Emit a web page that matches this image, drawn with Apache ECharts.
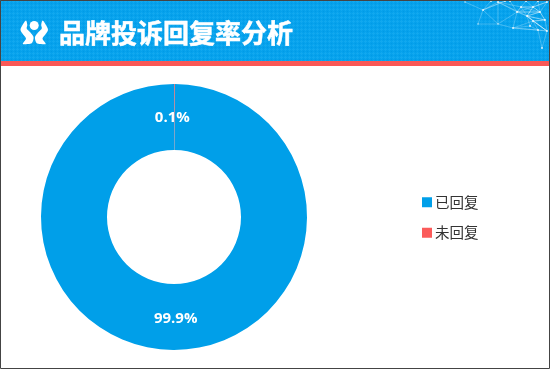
<!DOCTYPE html>
<html><head><meta charset="utf-8">
<style>html,body{margin:0;padding:0;background:#fff}#c{width:550px;height:369px}</style>
<script src="https://cdn.jsdelivr.net/npm/echarts@6/dist/echarts.min.js"></script>
</head><body><div id="c"></div>
<script>
const titleText = '品牌投诉回复率分析';
const categories = ['未回复', '已回复'];
const legendOrder = ['已回复', '未回复'];
const values = [0.1, 99.9];
const colors = ['#fb5b5a', '#009fe9'];
const labelOffsets = [[-2,4],[2,-1]];
const nodes = [[465,2],[498,2],[483,10],[521,7],[533,7],[547,2],[517,12],[527,16],[533,21],[498,24],[513,28],[538,30],[547,31],[542,48],[478,24],[505,1],[526,1],[540,12],[545,20],[491,1],[510,1],[538,1],[530,26]];
const links = [[0,2],[2,1],[1,3],[3,4],[4,5],[2,14],[2,9],[1,9],[9,10],[10,8],[8,11],[11,12],[12,13],[11,13],[3,6],[6,7],[7,8],[4,7],[6,10],[1,6],[14,9],[9,6],[15,2],[16,6],[16,4],[7,17],[17,4],[17,18],[18,12],[8,18],[10,11],[7,12],[10,12],[6,4],[3,7],[5,17],[8,12],[2,15],[19,2],[20,6],[21,17],[22,8],[22,10],[22,11],[7,22],[6,17],[1,7],[3,17],[7,18],[21,4]];
const strong = new Set([3,4,16,17,25,26,27,29,31,36,45,48]);
const g = [];
const pat = document.createElement('canvas');
pat.width = 4; pat.height = 4;
const px = pat.getContext('2d');
px.fillStyle = '#05a1ec'; px.fillRect(0,0,4,4);
px.fillStyle = '#11a8ef'; px.fillRect(1,0,1,1); px.fillRect(0,1,3,1); px.fillRect(1,2,1,1);
px.fillStyle = '#019ae5'; px.fillRect(3,3,1,1);
g.push({type:'rect',shape:{x:0,y:0,width:550,height:61},style:{fill:{image:pat,repeat:'repeat'}},silent:true});
g.push({type:'rect',shape:{x:0,y:61,width:550,height:5},style:{fill:'#f95856'},silent:true});
links.forEach((l,i)=>g.push({type:'line',shape:{x1:nodes[l[0]][0],y1:nodes[l[0]][1],x2:nodes[l[1]][0],y2:nodes[l[1]][1]},style:{stroke:strong.has(i)?'rgba(255,255,255,0.5)':'rgba(255,255,255,0.24)',lineWidth:1},silent:true}));
nodes.forEach((n,i)=>g.push({type:'circle',shape:{cx:n[0],cy:n[1],r:1},style:{fill:i===0||i===14||i===9?'rgba(255,255,255,0.4)':'rgba(255,255,255,0.8)'},silent:true}));
const logoLeft = [[26,20.5],[22.5,25],[20.5,30],[23.5,35],[26,38.5],[22.8,44],[28,44],[32,43],[33.5,37],[30,32],[26.7,28.5],[27.3,25]];
const logoRight = [[42.6,20.5],[46,25],[48,30],[45,35],[42.5,38.5],[45.7,44],[40.5,44],[36.5,43],[35,37],[38.5,32],[41.8,28.5],[41.2,25]];
g.push({type:'circle',shape:{cx:34.2,cy:25.5,r:4.5},style:{fill:'#fff'},silent:true});
g.push({type:'polygon',shape:{points:logoLeft,smooth:0.3},style:{fill:'#fff'},silent:true});
g.push({type:'polygon',shape:{points:logoRight,smooth:0.3},style:{fill:'#fff'},silent:true});
g.push({type:'text',x:59,y:33,style:{text:titleText,fill:'#fff',stroke:'#fff',lineWidth:0.5,font:'bold 26px "Noto Sans CJK SC"',textVerticalAlign:'middle'},silent:true});
g.push({type:'rect',shape:{x:0.5,y:0.5,width:549,height:368},style:{fill:'none',stroke:'#444',lineWidth:1},silent:true,z:100});
const chart = echarts.init(document.getElementById('c'));
chart.setOption({
  animation:false,
  color:colors,
  graphic:g,
  legend:{orient:'vertical',left:422,top:195,itemWidth:10,itemHeight:10,itemGap:16,itemStyle:{borderWidth:0},icon:'rect',data:legendOrder,
    textStyle:{color:'#333',fontSize:14.5,padding:[0,0,0,-2],fontFamily:'"Noto Sans CJK SC"'},padding:0},
  series:[{type:'pie',center:[174,217],radius:[67,133],startAngle:90,clockwise:true,
    data:categories.map((n,i)=>({name:n,value:values[i],label:{offset:labelOffsets[i]}})),
    itemStyle:{borderWidth:0},
    label:{show:true,position:'inside',formatter:p=>p.value+'%',color:'#fff',fontSize:15,fontWeight:'bold',fontFamily:'"Open Sans"'},
    labelLine:{show:false}}]
});
</script></body></html>
